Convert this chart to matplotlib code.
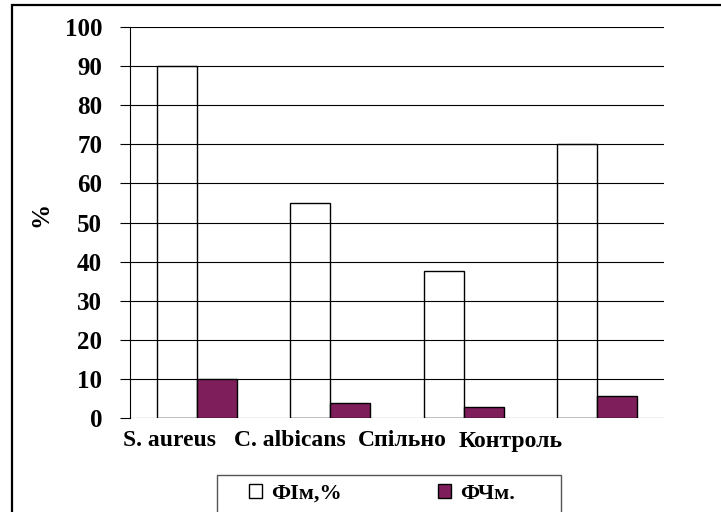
import numpy as np
import matplotlib.pyplot as plt
import matplotlib.transforms as mtransforms
from matplotlib.patches import Rectangle

kategorii = ['S. aureus', 'C. albicans', 'Спільно', 'Контроль']
fi_m = [90, 55, 37.5, 70]      # ФІм,%
fch_m = [10, 3.8, 2.8, 5.6]    # ФЧм.
y_tiky = [0, 10, 20, 30, 40, 50, 60, 70, 80, 90, 100]

plt.rcParams['font.family'] = ['Liberation Serif', 'DejaVu Serif']
plt.rcParams['font.weight'] = 'bold'

W, H = 721, 512
fig = plt.figure(figsize=(W / 100, H / 100), dpi=100)
ax = fig.add_axes([130 / W, (H - 418) / H, (664 - 130) / W, (418 - 27) / H])

x = np.arange(len(kategorii))
shyryna = 0.3
# білі стовпчики прозорі всередині - сітку видно крізь них
ax.bar(x - shyryna / 2, fi_m, shyryna, facecolor='none', edgecolor='black',
       linewidth=1.0, label='ФІм,%', zorder=3)
ax.bar(x + shyryna / 2, fch_m, shyryna, color='#7E1E5B', edgecolor='black',
       linewidth=1.0, label='ФЧм.', zorder=3)

ax.set_xlim(-0.5, len(kategorii) - 0.5)
ax.set_ylim(0, 100)
ax.set_yticks(y_tiky)
ax.yaxis.grid(True, color='black', linewidth=0.8, zorder=0)
ax.tick_params(axis='y', length=7, width=0.8, pad=13, labelsize=18)
ax.tick_params(axis='x', length=0, pad=9, labelsize=17)
for s in ['top', 'right', 'bottom']:
    ax.spines[s].set_visible(False)
ax.spines['left'].set_linewidth(0.8)

# підписи категорій трохи зсунуті ліворуч
ax.set_xticks(x)
ax.set_xticklabels(kategorii)
zsuvy = [-27, -40, -61, -87]
for lbl, dx in zip(ax.get_xticklabels(), zsuvy):
    lbl.set_transform(lbl.get_transform() +
                      mtransforms.ScaledTranslation(dx / 100, 0, fig.dpi_scale_trans))

ax.set_ylabel('%', fontsize=18, fontweight='bold')
ax.yaxis.set_label_coords((52 - 130) / (664 - 130), 0.52)

# легенда: рамка окремо, записи без рамки
fig.add_artist(Rectangle((217 / W, -0.1), (561 - 217) / W, 0.1 + (H - 475) / H,
                         transform=fig.transFigure, fill=False,
                         edgecolor='#555555', linewidth=1.0))
leg = fig.legend(loc='center left', ncol=2,
                 bbox_to_anchor=(249 / W, (H - 494) / H),
                 frameon=False, fontsize=16,
                 handlelength=0.6, handleheight=0.6, handletextpad=0.4,
                 columnspacing=4.3, borderpad=0, borderaxespad=0)

# рамка навколо всього рисунка
fig.add_artist(Rectangle((12 / W, -0.2), 1.2, 1.2 - 5 / H, transform=fig.transFigure,
                         fill=False, edgecolor='black', linewidth=1.6))

fig.savefig('out.png', dpi=100)
